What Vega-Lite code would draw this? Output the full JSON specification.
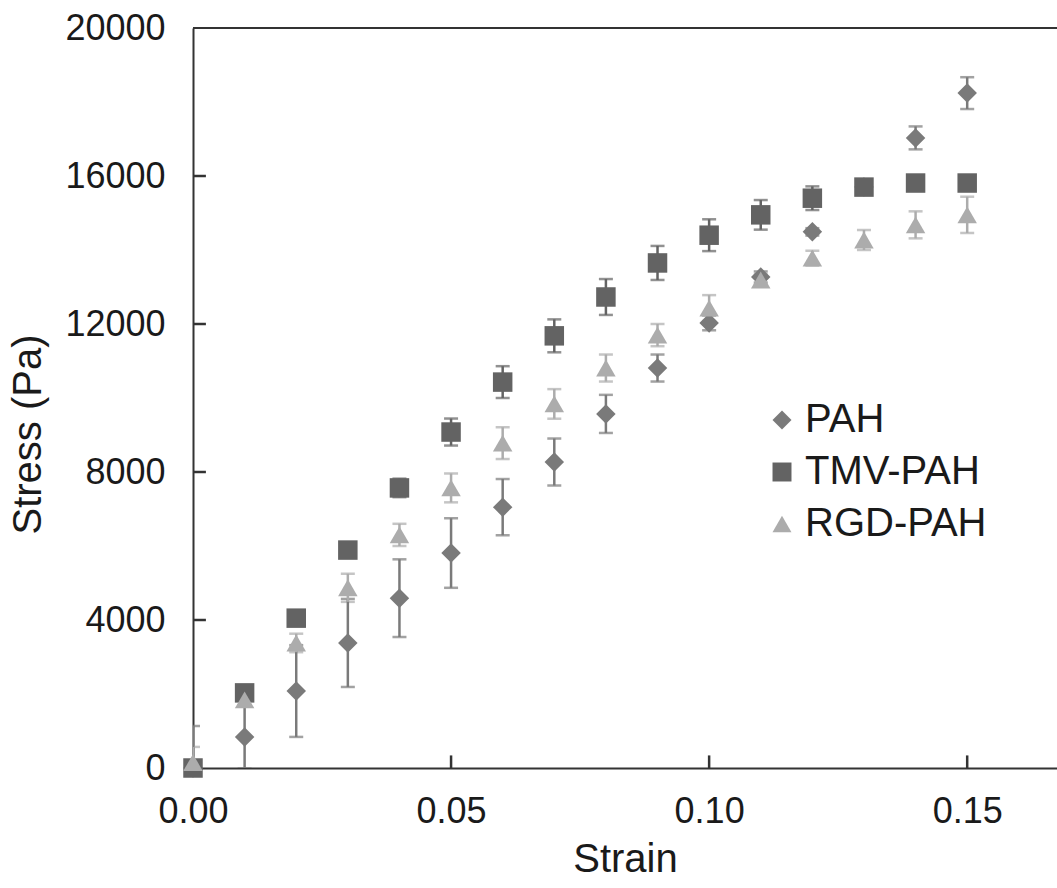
{
  "$schema": "https://vega.github.io/schema/vega-lite/v6.json",
  "width": 864,
  "height": 740,
  "autosize": {"type": "none"},
  "padding": {"left": 193, "top": 28, "right": 0, "bottom": 120},
  "background": "white",
  "data": {"values": [
    {"series": "PAH", "strain": 0.00, "stress": 0, "err": 1135},
    {"series": "PAH", "strain": 0.01, "stress": 840, "err": 850},
    {"series": "PAH", "strain": 0.02, "stress": 2080, "err": 1240},
    {"series": "PAH", "strain": 0.03, "stress": 3380, "err": 1190},
    {"series": "PAH", "strain": 0.04, "stress": 4590, "err": 1050},
    {"series": "PAH", "strain": 0.05, "stress": 5810, "err": 940},
    {"series": "PAH", "strain": 0.06, "stress": 7050, "err": 760},
    {"series": "PAH", "strain": 0.07, "stress": 8270, "err": 635},
    {"series": "PAH", "strain": 0.08, "stress": 9570, "err": 515},
    {"series": "PAH", "strain": 0.09, "stress": 10810, "err": 365},
    {"series": "PAH", "strain": 0.10, "stress": 12030, "err": 200},
    {"series": "PAH", "strain": 0.11, "stress": 13270, "err": 150},
    {"series": "PAH", "strain": 0.12, "stress": 14490, "err": 100},
    {"series": "PAH", "strain": 0.13, "stress": 15700, "err": 100},
    {"series": "PAH", "strain": 0.14, "stress": 17030, "err": 310},
    {"series": "PAH", "strain": 0.15, "stress": 18240, "err": 430},
    {"series": "TMV-PAH", "strain": 0.00, "stress": 0, "err": 0},
    {"series": "TMV-PAH", "strain": 0.01, "stress": 2030, "err": 100},
    {"series": "TMV-PAH", "strain": 0.02, "stress": 4050, "err": 100},
    {"series": "TMV-PAH", "strain": 0.03, "stress": 5890, "err": 100},
    {"series": "TMV-PAH", "strain": 0.04, "stress": 7570, "err": 250},
    {"series": "TMV-PAH", "strain": 0.05, "stress": 9080, "err": 365},
    {"series": "TMV-PAH", "strain": 0.06, "stress": 10430, "err": 430},
    {"series": "TMV-PAH", "strain": 0.07, "stress": 11680, "err": 445},
    {"series": "TMV-PAH", "strain": 0.08, "stress": 12730, "err": 485},
    {"series": "TMV-PAH", "strain": 0.09, "stress": 13650, "err": 460},
    {"series": "TMV-PAH", "strain": 0.10, "stress": 14400, "err": 430},
    {"series": "TMV-PAH", "strain": 0.11, "stress": 14950, "err": 400},
    {"series": "TMV-PAH", "strain": 0.12, "stress": 15400, "err": 320},
    {"series": "TMV-PAH", "strain": 0.13, "stress": 15700, "err": 100},
    {"series": "TMV-PAH", "strain": 0.14, "stress": 15810, "err": 0},
    {"series": "TMV-PAH", "strain": 0.15, "stress": 15810, "err": 0},
    {"series": "RGD-PAH", "strain": 0.00, "stress": 150, "err": 420},
    {"series": "RGD-PAH", "strain": 0.01, "stress": 1840, "err": 150},
    {"series": "RGD-PAH", "strain": 0.02, "stress": 3380, "err": 250},
    {"series": "RGD-PAH", "strain": 0.03, "stress": 4870, "err": 380},
    {"series": "RGD-PAH", "strain": 0.04, "stress": 6300, "err": 300},
    {"series": "RGD-PAH", "strain": 0.05, "stress": 7570, "err": 390},
    {"series": "RGD-PAH", "strain": 0.06, "stress": 8780, "err": 430},
    {"series": "RGD-PAH", "strain": 0.07, "stress": 9840, "err": 400},
    {"series": "RGD-PAH", "strain": 0.08, "stress": 10810, "err": 365},
    {"series": "RGD-PAH", "strain": 0.09, "stress": 11700, "err": 300},
    {"series": "RGD-PAH", "strain": 0.10, "stress": 12430, "err": 350},
    {"series": "RGD-PAH", "strain": 0.11, "stress": 13190, "err": 150},
    {"series": "RGD-PAH", "strain": 0.12, "stress": 13780, "err": 200},
    {"series": "RGD-PAH", "strain": 0.13, "stress": 14270, "err": 270},
    {"series": "RGD-PAH", "strain": 0.14, "stress": 14680, "err": 365},
    {"series": "RGD-PAH", "strain": 0.15, "stress": 14950, "err": 490}
  ]},
  "layer": [
    {
      "data": {"values": [{"top": 20000}]},
      "mark": {"type": "rule", "color": "#333333", "strokeWidth": 2},
      "encoding": {"y": {"field": "top", "type": "quantitative", "title": "Stress (Pa)"}}
    },
    {
      "mark": {"type": "errorbar", "clip": true, "thickness": 2.5, "ticks": {"size": 14, "thickness": 2.5}},
      "encoding": {
        "x": {"field": "strain", "type": "quantitative", "title": "Strain"},
        "y": {"field": "stress", "type": "quantitative", "title": "Stress (Pa)"},
        "yError": {"field": "err"},
        "color": {"field": "series", "type": "nominal",
          "scale": {"domain": ["PAH", "TMV-PAH", "RGD-PAH"], "range": ["#7a7a7a", "#636363", "#acacac"]},
          "legend": {"orient": "none", "legendX": 569, "legendY": 372, "title": null, "labelFontSize": 40, "labelColor": "#1a1a1a", "labelOffset": 3, "labelLimit": 500, "rowPadding": 12, "symbolSize": 360, "symbolStrokeWidth": 0, "symbolOpacity": 1, "padding": 0}}
      }
    },
    {
      "mark": {"type": "point", "filled": true, "opacity": 1, "size": 380},
      "encoding": {
        "x": {"field": "strain", "type": "quantitative", "title": "Strain"},
        "y": {"field": "stress", "type": "quantitative", "title": "Stress (Pa)"},
        "color": {"field": "series", "type": "nominal",
          "scale": {"domain": ["PAH", "TMV-PAH", "RGD-PAH"], "range": ["#7a7a7a", "#636363", "#acacac"]},
          "legend": {"orient": "none", "legendX": 569, "legendY": 372, "title": null, "labelFontSize": 40, "labelColor": "#1a1a1a", "labelOffset": 3, "labelLimit": 500, "rowPadding": 12, "symbolSize": 360, "symbolStrokeWidth": 0, "symbolOpacity": 1, "padding": 0}},
        "shape": {"field": "series", "type": "nominal",
          "scale": {"domain": ["PAH", "TMV-PAH", "RGD-PAH"], "range": ["diamond", "square", "triangle-up"]}}
      }
    },
    {
      "data": {"values": [{"tick": 0.05}, {"tick": 0.10}, {"tick": 0.15}]},
      "mark": {"type": "rule", "color": "#333333", "strokeWidth": 2.5},
      "encoding": {
        "x": {"field": "tick", "type": "quantitative", "title": "Strain"},
        "y": {"datum": 0, "type": "quantitative"},
        "y2": {"datum": 340}
      }
    },
    {
      "data": {"values": [{"tick": 4000}, {"tick": 8000}, {"tick": 12000}, {"tick": 16000}]},
      "mark": {"type": "rule", "color": "#333333", "strokeWidth": 2.5},
      "encoding": {
        "y": {"field": "tick", "type": "quantitative", "title": "Stress (Pa)"},
        "x": {"datum": 0, "type": "quantitative"},
        "x2": {"datum": 0.0025}
      }
    }
  ],
  "encoding": {
    "x": {"scale": {"domain": [0, 0.1674], "nice": false, "zero": false},
      "axis": {"values": [0, 0.05, 0.1, 0.15], "format": ".2f", "ticks": false, "labelFlush": false, "labelOverlap": false, "labelPadding": 26, "titlePadding": 10}},
    "y": {"scale": {"domain": [0, 20000], "nice": false},
      "axis": {"values": [0, 4000, 8000, 12000, 16000, 20000], "format": "d", "ticks": false, "labelFlush": false, "labelOverlap": false, "labelPadding": 28, "titleY": 406, "titlePadding": 16}}
  },
  "config": {
    "view": {"stroke": null},
    "font": "Liberation Sans",
    "axis": {"domainColor": "#333333", "domainWidth": 2, "labelFontSize": 36, "labelColor": "#1a1a1a", "titleFontSize": 40, "titleFontWeight": "normal", "titleColor": "#1a1a1a", "grid": false}
  }
}
